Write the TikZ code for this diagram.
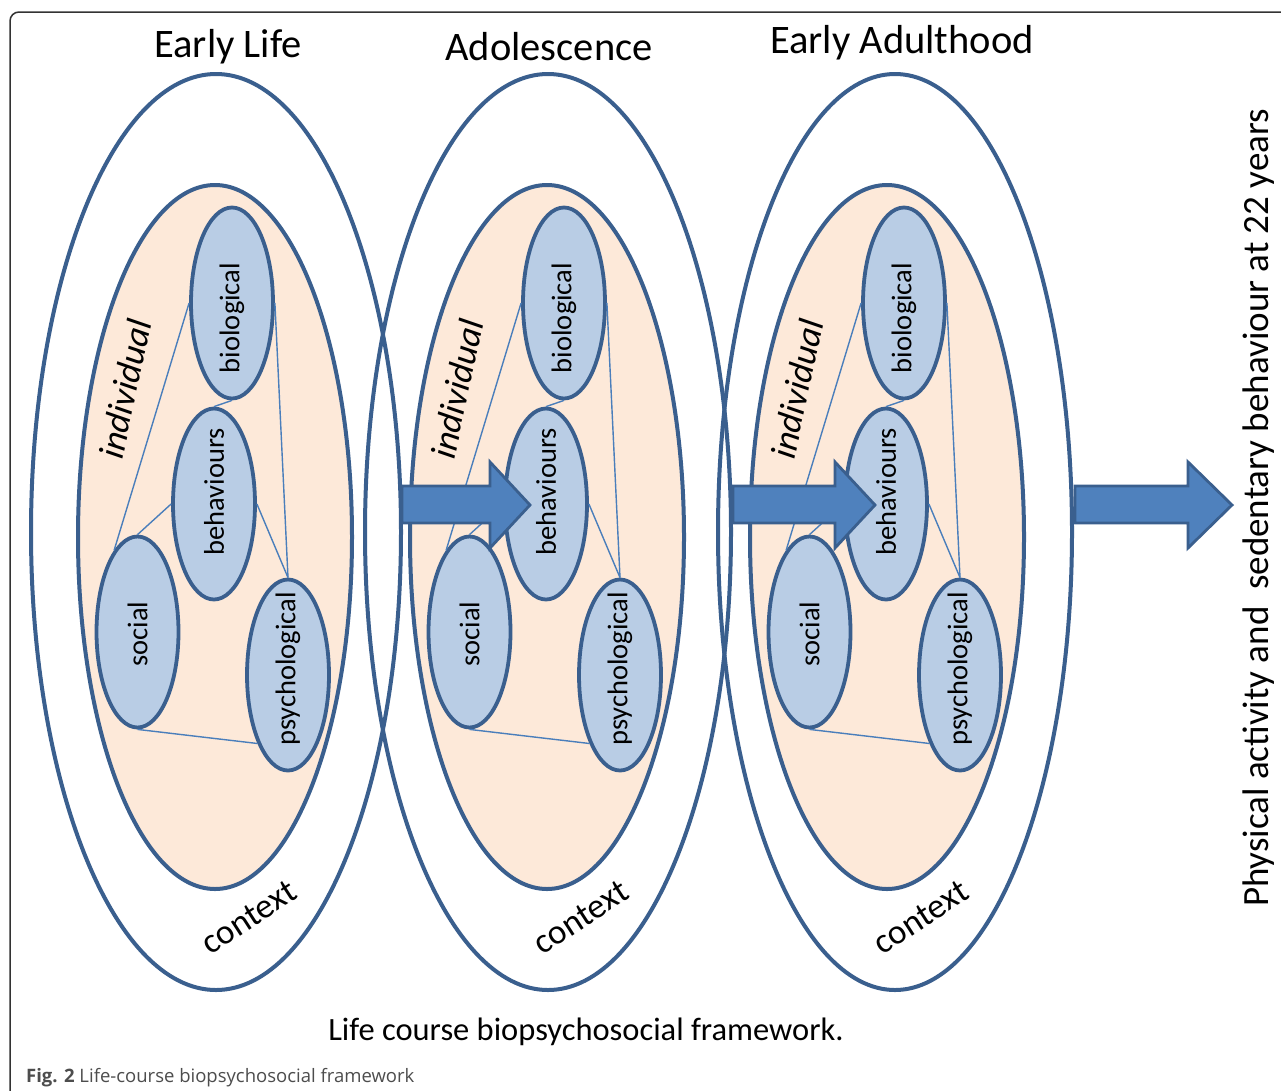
\documentclass[tikz,border=0pt]{standalone}
\usepackage{fontspec}
\setmainfont{Carlito}
\newfontfamily\capfont{Open Sans}
\usetikzlibrary{shapes.geometric}
\definecolor{edgeblue}{HTML}{3A5F8E}
\definecolor{arrowblue}{HTML}{4F81BD}
\definecolor{ballblue}{HTML}{B9CDE5}
\definecolor{peach}{HTML}{FDE9D9}
\definecolor{linkblue}{HTML}{4A7EBB}
\definecolor{framegray}{HTML}{333333}
\definecolor{capgray}{HTML}{4D4D4D}
\newcommand\vtext[2]{\rotatebox{90}{\makebox[0pt][c]{\hspace*{#1pt}#2}}}
\newcommand\lcgroup[2]{%
\begin{scope}[xshift=#2pt]
\draw[innerell] (215,537) ellipse [x radius=137pt, y radius=352pt];
\node[factor] (bio#1) at (232,303) {\vtext{-30}{biological}};
\node[factor] (beh#1) at (214,504) {\vtext{24}{behaviours}};
\node[factor] (soc#1) at (137.5,632) {\vtext{-4}{social}};
\node[factor] (psy#1) at (288,675) {\vtext{12}{psychological}};
\draw[link] (bio#1.180) -- (soc#1.106);
\draw[link] (bio#1.270) -- (beh#1.90);
\draw[link] (bio#1.0) -- (psy#1.90);
\draw[link] (beh#1.180) -- (soc#1.90);
\draw[link] (beh#1.0) -- (psy#1.90);
\draw[link] (soc#1.270) -- (psy#1.246);
\node[lbl, rotate=78, font=\fontsize{36}{40}\selectfont\itshape] (ind#1) at (125,389) {individual};
\node[lbl, rotate=33, font=\fontsize{35}{40}\selectfont] (ctx#1) at (249,917) {context};
\end{scope}}
\begin{document}
\begin{tikzpicture}[x=1pt,y=-1pt,
  outerell/.style={draw=edgeblue, line width=4pt},
  innerell/.style={draw=edgeblue, fill=peach, line width=4pt},
  factor/.style={ellipse, draw=edgeblue, fill=ballblue, line width=3.8pt,
     minimum width=82pt, minimum height=191pt, inner sep=0pt,
     font=\fontsize{28.5}{30}\selectfont},
  link/.style={draw=linkblue, line width=1.4pt},
  blockarrow/.style={draw=edgeblue, fill=arrowblue, line width=2.8pt, line join=miter},
  lbl/.style={inner sep=0pt, text=black},
  title/.style={inner sep=0pt, font=\fontsize{40.5}{46}\selectfont}]
\useasboundingbox (0,0) rectangle (1281,1090);
\fill[white] (0,0) rectangle (1281,1090);
% frame
\draw[framegray, line width=1.5pt, rounded corners=9pt] (10,1095) -- (10,12) -- (1290,12);
% outer ellipses
\draw[outerell] (216,532) ellipse [x radius=185pt, y radius=458pt];
\draw[outerell] (548,532) ellipse [x radius=183pt, y radius=458pt];
\draw[outerell] (895,532) ellipse [x radius=177pt, y radius=458pt];
% groups
\lcgroup{a}{0}
\lcgroup{b}{332}
\lcgroup{c}{672}
% titles
\node[title] (t1) at (228,47) {Early Life};
\node[title] (t2) at (549,47) {Adolescence};
\node[title] (t3) at (902,43) {Early Adulthood};
% arrows
\draw[blockarrow] (402,486) -- (490,486) -- (490,462) -- (530,505) -- (490,548) -- (490,523) -- (402,523) -- cycle;
\draw[blockarrow] (733,486) -- (835,486) -- (835,462) -- (875,505) -- (835,548) -- (835,523) -- (733,523) -- cycle;
\draw[blockarrow] (1075,486) -- (1188,486) -- (1188,462) -- (1232,505) -- (1188,548) -- (1188,523) -- (1075,523) -- cycle;
% outcome
\node[lbl, rotate=90, font=\fontsize{37}{42}\selectfont] (out) at (1259,508) {Physical activity and\ \ sedentary behaviour at 22 years};
\node[lbl, font=\fontsize{32.5}{38}\selectfont] (sub) at (586,1032) {Life course biopsychosocial framework.};
\node[lbl, anchor=base west, font=\capfont\fontsize{18.5}{22}\selectfont, text=capgray] (cap) at (26,1082) {\textbf{Fig. 2} Life-course biopsychosocial framework};
\end{tikzpicture}
\end{document}
